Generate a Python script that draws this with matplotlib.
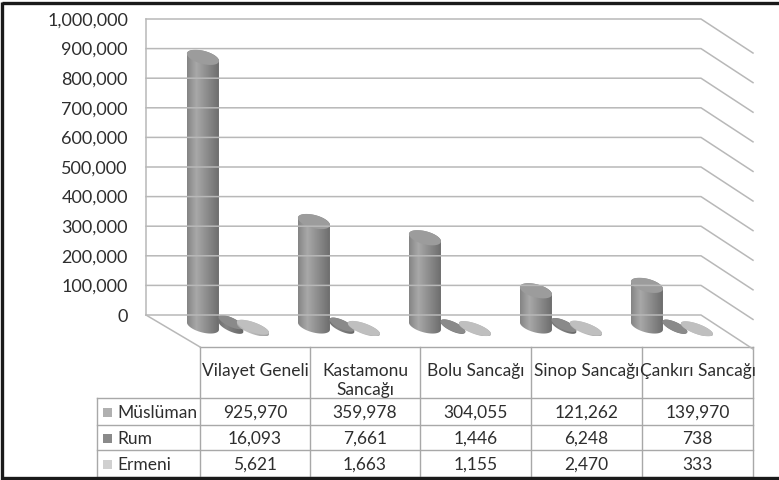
import numpy as np
import matplotlib.pyplot as plt
from matplotlib.patches import Polygon, Rectangle
from matplotlib.ticker import FuncFormatter

plt.rcParams['font.family'] = ['Lato', 'DejaVu Sans']

categories = ["Vilayet Geneli", "Kastamonu\nSancağı", "Bolu Sancağı", "Sinop Sancağı", "Çankırı Sancağı"]
series_names = ["Müslüman", "Rum", "Ermeni"]
muslim = [925970, 359978, 304055, 121262, 139970]
rum = [16093, 7661, 1446, 6248, 738]
ermeni = [5621, 1663, 1155, 2470, 333]
yticks = [0, 100000, 200000, 300000, 400000, 500000, 600000, 700000, 800000, 900000, 1000000]

W, H = 779, 480
TXT = '#2e2e2e'
GRID = '#b8b8b8'
LINE = '#a8a8a8'

fig = plt.figure(figsize=(W / 100, H / 100), dpi=100)
bg = fig.add_axes([0, 0, 1, 1], zorder=0)
bg.axis('off')

ax = fig.add_axes([146 / W, (H - 315) / H, 555 / W, 296 / H], zorder=1)
ax.set_xlim(-0.5, 4.5)
ax.set_ylim(0, 1e6)
ax.patch.set_visible(False)
for s in ax.spines.values():
    s.set_visible(False)
ax.set_xticks([])
ax.set_yticks(yticks)
ax.yaxis.set_major_formatter(FuncFormatter(lambda v, p: f"{int(v):,}"))
ax.tick_params(axis='y', length=0, pad=13, labelsize=13, labelcolor=TXT)

# back wall + side wall gridlines
side_dx, side_dy = 52 / 111, 115000
for v in yticks:
    ax.plot([-0.5, 4.5, 4.5 + side_dx], [v, v, v - side_dy], color=GRID, lw=1.1,
            clip_on=False, zorder=1)
ax.plot([-0.5, -0.5], [0, 1e6], color=GRID, lw=1.1, clip_on=False, zorder=1)
ax.plot([-0.5, -0.5 + 54 / 111], [0, -108000], color=GRID, lw=1.1, clip_on=False, zorder=1)

# cylinder look per series
series_vals = [muslim, rum, ermeni]
series_dx = [0.013, 0.265, 0.463]
series_depth = [-37000, -40000, -47000]
persp = 0.98
shape = [  # half width, half height of ellipse, tilt (deg)
    (16.5, 6.5, 15),
    (13.5, 4.5, 25),
    (17.0, 5.0, 20),
]
shades = [  # left, highlight, right of body ; top face
    ((0.52, 0.66, 0.42), 0.61),
    ((0.44, 0.52, 0.40), 0.54),
    ((0.66, 0.76, 0.62), 0.75),
]


def to_bg(x, v):
    px, py = ax.transData.transform((x, v))
    return px, H - py


def ellipse_pts(cx, cy, a, b, th, t):
    c, s = np.cos(th), np.sin(th)
    x = a * np.cos(t) * c - b * np.sin(t) * s
    y = a * np.cos(t) * s + b * np.sin(t) * c
    return np.column_stack([cx + x, cy + y])


def draw_cyl(cx, yb, yt, a, b, tilt, body, top, z):
    th = np.radians(tilt)
    t0 = np.arctan2(-b * np.sin(th), a * np.cos(th))
    low = ellipse_pts(cx, yb, a, b, th, np.linspace(t0, t0 + np.pi, 60))
    up = ellipse_pts(cx, yt, a, b, th, np.linspace(t0 + np.pi, t0 + 2 * np.pi, 60))
    outline = np.vstack([low, up])
    poly = Polygon(outline, closed=True, facecolor='none', edgecolor='none', zorder=z)
    bg.add_patch(poly)
    x0, x1 = outline[:, 0].min(), outline[:, 0].max()
    u = np.linspace(0, 1, 64)
    g = np.interp(u, [0, 0.28, 1], body)
    img = np.dstack([g, g, g]).reshape(1, 64, 3)
    im = bg.imshow(img, extent=(x0, x1, outline[:, 1].max(), outline[:, 1].min()),
                   aspect='auto', interpolation='bilinear', zorder=z)
    im.set_clip_path(poly)
    face = ellipse_pts(cx, yt, a, b, th, np.linspace(0, 2 * np.pi, 80))
    bg.add_patch(Polygon(face, closed=True, facecolor=str(top), edgecolor='none', zorder=z + 0.1))


z = 2
for i in range(len(categories)):
    for k, vals in enumerate(series_vals):
        xb, yb = to_bg(i + series_dx[k], series_depth[k])
        _, yt = to_bg(i + series_dx[k], series_depth[k] + vals[i] * persp)
        a, b, tilt = shape[k]
        draw_cyl(xb, yb, yt, a, b, tilt, shades[k][0], shades[k][1], z)
        z += 1

# data table
col_x = [200, 310, 420, 531, 642, 753]
row_y = [347, 398, 425, 450, 477]
lab_x = 97
bg.plot([col_x[0], col_x[-1]], [row_y[0], row_y[0]], color=LINE, lw=1)
for y in row_y[1:]:
    bg.plot([lab_x, col_x[-1]], [y, y], color=LINE, lw=1)
bg.plot([lab_x, lab_x], [row_y[1], row_y[-1]], color=LINE, lw=1)
for x in col_x:
    bg.plot([x, x], [row_y[0], row_y[-1]], color=LINE, lw=1)

for j, name in enumerate(categories):
    xc = (col_x[j] + col_x[j + 1]) / 2
    bg.text(xc, 363, name, ha='center', va='top', fontsize=12.5, color=TXT, linespacing=1.2)

key_colors = ['#b0b0b0', '#8a8a8a', '#d0d0d0']
for k, name in enumerate(series_names):
    yc = (row_y[k + 1] + row_y[k + 2]) / 2 + 1
    bg.add_patch(Rectangle((103, yc - 4.5), 9, 9, facecolor=key_colors[k], edgecolor='none'))
    bg.text(117, yc, name, ha='left', va='center', fontsize=12.5, color=TXT)
    for j in range(len(categories)):
        xc = (col_x[j] + col_x[j + 1]) / 2
        bg.text(xc, yc, f"{series_vals[k][j]:,}", ha='center', va='center',
                fontsize=12.5, color=TXT)

# outer frame
bg.plot([2, W], [2.5, 2.5], color='#1a1a1a', lw=2.4, solid_capstyle='butt')
bg.plot([2.5, 2.5], [2, H], color='#1a1a1a', lw=2.4, solid_capstyle='butt')
bg.plot([2, W], [478, 478], color='#1a1a1a', lw=2.4, solid_capstyle='butt')

bg.set_xlim(0, W)
bg.set_ylim(H, 0)
fig.savefig('out.png', dpi=100)
